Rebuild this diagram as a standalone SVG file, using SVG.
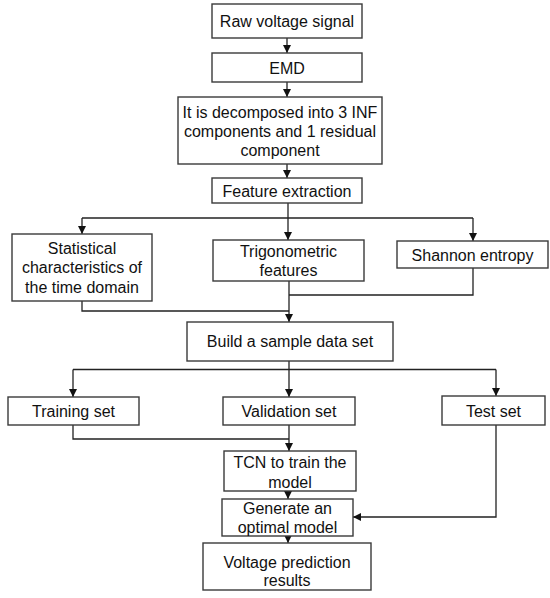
<svg xmlns="http://www.w3.org/2000/svg" width="550" height="598" viewBox="0 0 550 598">
<defs>
<style>
.box{fill:#fff;stroke:#3a3a3a;stroke-width:1.4}
.t{font-family:"Liberation Sans",Arial,sans-serif;font-size:16px;fill:#111;text-anchor:middle;dominant-baseline:central}
.c{fill:none;stroke:#222;stroke-width:1.3}
</style>
<marker id="ah" markerUnits="userSpaceOnUse" markerWidth="8" markerHeight="8" refX="8" refY="4" orient="auto">
<path d="M0,0 L8,4 L0,8 z" fill="#111"/>
</marker>
</defs>
<rect width="550" height="598" fill="#fff"/>
<g id="connectors">
<path class="c" d="M287,38 V53" marker-end="url(#ah)"/>
<path class="c" d="M287,82 V97" marker-end="url(#ah)"/>
<path class="c" d="M287,164 V178" marker-end="url(#ah)"/>
<path class="c" d="M288,203 V240" marker-end="url(#ah)"/>
<path class="c" d="M82,218 H473"/>
<path class="c" d="M82,218 V234" marker-end="url(#ah)"/>
<path class="c" d="M473,218 V241" marker-end="url(#ah)"/>
<path class="c" d="M473,268 V295 H289"/>
<path class="c" d="M82,301 V311 H289"/>
<path class="c" d="M289,281 V322" marker-end="url(#ah)"/>
<path class="c" d="M289,361 V397" marker-end="url(#ah)"/>
<path class="c" d="M73,369.5 H496"/>
<path class="c" d="M73,369.5 V397" marker-end="url(#ah)"/>
<path class="c" d="M496,369.5 V396" marker-end="url(#ah)"/>
<path class="c" d="M73,425 V439 H289"/>
<path class="c" d="M289,425 V451" marker-end="url(#ah)"/>
<path class="c" d="M288,491 V499" marker-end="url(#ah)"/>
<path class="c" d="M496,425 V517 H353" marker-end="url(#ah)"/>
<path class="c" d="M288,536 V543" marker-end="url(#ah)"/>
</g>
<g id="n1"><rect class="box" x="212" y="4" width="150" height="34"/><text class="t" x="287" y="21">Raw voltage signal</text></g>
<g id="n2"><rect class="box" x="212" y="53" width="150" height="29"/><text class="t" x="287" y="68">EMD</text></g>
<g id="n3"><rect class="box" x="178" y="97" width="204" height="67"/><text class="t" x="280" y="112">It is decomposed into 3 INF</text><text class="t" x="280" y="131">components and 1 residual</text><text class="t" x="280" y="150">component</text></g>
<g id="n4"><rect class="box" x="212" y="178" width="150" height="25"/><text class="t" x="287" y="191">Feature extraction</text></g>
<g id="n5"><rect class="box" x="12" y="234" width="140" height="67"/><text class="t" x="82" y="248">Statistical</text><text class="t" x="82" y="267.5">characteristics of</text><text class="t" x="82" y="287">the time domain</text></g>
<g id="n6"><rect class="box" x="213" y="240" width="151" height="41"/><text class="t" x="288.5" y="251">Trigonometric</text><text class="t" x="288.5" y="270">features</text></g>
<g id="n7"><rect class="box" x="397" y="241" width="151" height="27"/><text class="t" x="472.5" y="255">Shannon entropy</text></g>
<g id="n8"><rect class="box" x="187" y="322" width="206" height="39"/><text class="t" x="290" y="341.5">Build a sample data set</text></g>
<g id="n9"><rect class="box" x="8" y="397" width="131" height="28"/><text class="t" x="73.5" y="411.5">Training set</text></g>
<g id="n10"><rect class="box" x="223" y="397" width="132" height="28"/><text class="t" x="289" y="411.5">Validation set</text></g>
<g id="n11"><rect class="box" x="442" y="396" width="103" height="29"/><text class="t" x="493.5" y="411">Test set</text></g>
<g id="n12"><rect class="box" x="224" y="451" width="132" height="40"/><text class="t" x="290" y="462">TCN to train the</text><text class="t" x="290" y="482">model</text></g>
<g id="n13"><rect class="box" x="222" y="499" width="131" height="37"/><text class="t" x="287.5" y="508.5">Generate an</text><text class="t" x="287.5" y="527.5">optimal model</text></g>
<g id="n14"><rect class="box" x="203" y="543" width="168" height="47"/><text class="t" x="287" y="562">Voltage prediction</text><text class="t" x="287" y="580">results</text></g>
</svg>
